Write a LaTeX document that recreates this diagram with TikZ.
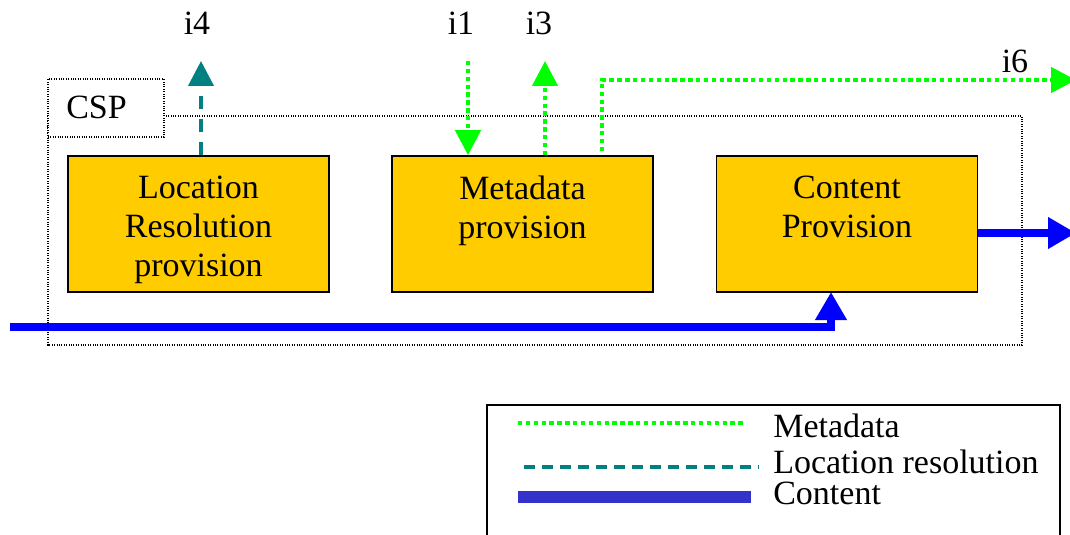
\documentclass[tikz,border=0pt]{standalone}
\usepackage{fontspec}
\setmainfont{Liberation Serif}
\usetikzlibrary{arrows.meta}
\definecolor{boxyellow}{HTML}{FFCC00}
\definecolor{mgreen}{HTML}{00FF00}
\definecolor{lteal}{HTML}{008080}
\definecolor{cblue}{HTML}{0000FF}
\definecolor{legblue}{HTML}{3333CC}
\tikzset{
  procbox/.style={draw=black, line width=1.2pt, fill=boxyellow, minimum width=195.75pt, minimum height=102pt, inner sep=0pt},
  boxtext/.style={anchor=north, align=center, inner sep=0pt, font=\fontsize{25.5pt}{29.25pt}\selectfont},
  lbl/.style={anchor=base, inner sep=0pt, font=\fontsize{25.5pt}{29.25pt}\selectfont},
  legtext/.style={anchor=base west, inner sep=0pt, font=\fontsize{25.5pt}{29.25pt}\selectfont},
  csp/.style={draw=black, densely dotted, line width=0.8pt},
  metaline/.style={draw=mgreen, line width=3.4pt, dash pattern=on 3.3pt off 2.6pt},
  locline/.style={draw=lteal, line width=3pt, dash pattern=on 9.75pt off 7.5pt},
  contline/.style={draw=cblue, line width=6pt},
  smallhead/.style={-{Triangle[length=18.75pt,width=18.75pt]}},
  bighead/.style={-{Triangle[length=21pt,width=22.5pt]}},
}
\begin{document}
\begin{tikzpicture}[x=0.75pt,y=-0.75pt]
\useasboundingbox (0,0) rectangle (1070,535);
% CSP container
\draw[csp] (48,116) rectangle (1022,345);
\node[csp, fill=white, minimum width=87pt, minimum height=43.5pt, inner sep=0pt] (cspbox) at (106,108) {};
\node[lbl] (csplabel) at (96.5,118) {CSP};
% process boxes
\node[procbox] (loc) at (198.5,224) {};
\node[procbox] (meta) at (522.5,224) {};
\node[procbox] (cont) at (847,224) {};
\node[boxtext] (loctxt) at (198.5,176) {Location\\Resolution\\provision};
\node[boxtext] (metatxt) at (522.5,176) {Metadata\\provision};
\node[boxtext] (conttxt) at (847,176) {Content\\Provision};
% interface labels
\node[lbl] (i4) at (197,35) {i4};
\node[lbl] (i1) at (461,35) {i1};
\node[lbl] (i3) at (539,35) {i3};
\node[lbl] (i6) at (1015,73) {i6};
% coordinates
\coordinate (i4end) at (201,61);
\coordinate (i1start) at (468,61);
\coordinate (i3end) at (545,61);
\coordinate (i6start) at (602,0);
\coordinate (i6end) at (1076,80);
\coordinate (bstart) at (10,327);
\coordinate (cin) at (831,292);
\coordinate (cout) at (1076,233);
% connectors
\draw[locline, smallhead] (loc.north -| i4end) -- (i4end);
\draw[metaline, smallhead] (i1start) -- (meta.north -| i1start);
\draw[metaline, smallhead] (meta.north -| i3end) -- (i3end);
\draw[metaline, smallhead] ([yshift=3pt]meta.north -| i6start) |- (i6end);
\draw[contline, bighead] (bstart) -| (cin);
\draw[contline, bighead] (cont.east |- cout) -- (cout);
% legend
\draw[black, line width=1.2pt] (487,545) -- (487,405) -- (1060,405) -- (1060,545);
\coordinate (lm1) at (518,423); \coordinate (lm2) at (745,423);
\coordinate (ll1) at (524,467); \coordinate (ll2) at (759,467);
\coordinate (lc1) at (518,497); \coordinate (lc2) at (751,497);
\draw[metaline] (lm1) -- (lm2);
\draw[draw=lteal, line width=2.4pt, dash pattern=on 8pt off 5.5pt] (ll1) -- (ll2);
\draw[draw=legblue, line width=9pt] (lc1) -- (lc2);
\node[legtext] (legm) at (773,437) {Metadata};
\node[legtext] (legl) at (773,473) {Location resolution};
\node[legtext] (legc) at (773,504) {Content};
\end{tikzpicture}
\end{document}
